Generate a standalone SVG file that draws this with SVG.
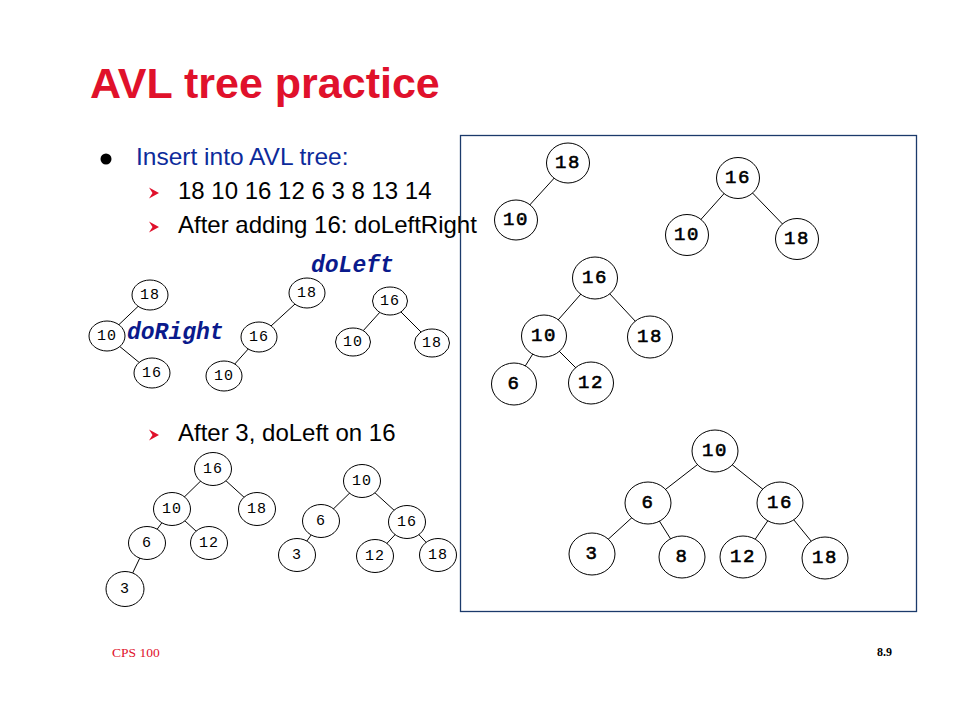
<svg xmlns="http://www.w3.org/2000/svg" width="960" height="720" viewBox="0 0 960 720">
<style>
.edge{stroke:#000;stroke-width:1;fill:none}
.nb ellipse{fill:#fff;stroke:#000;stroke-width:1}
.ns ellipse{fill:#fff;stroke:#000;stroke-width:1}
.nb text{font-family:"Liberation Mono","Courier New",monospace;font-size:19px;stroke:#000;stroke-width:0.6;letter-spacing:1.5px;text-anchor:middle;dominant-baseline:central}
.ns text{font-family:"Liberation Mono","Courier New",monospace;font-size:15px;letter-spacing:1px;text-anchor:middle;dominant-baseline:central}
.body{font-family:"Liberation Sans",Arial,sans-serif;font-size:24px;fill:#000}
.op{font-family:"Liberation Mono","Courier New",monospace;font-size:23px;font-weight:bold;font-style:italic;fill:#0a1a8c}
</style>
<defs>
<polygon id="arr" points="0,-5.5 10,0 0,5.5 3.5,0" fill="#e0112b"/>
</defs>
<rect width="960" height="720" fill="#fff"/>
<text x="90" y="98" font-family="Liberation Sans,Arial,sans-serif" font-size="43" font-weight="bold" fill="#e0112b">AVL tree practice</text>
<circle cx="106" cy="159" r="5.5" fill="#000"/>
<text x="136" y="165" font-family="Liberation Sans,Arial,sans-serif" font-size="24.5" fill="#0d2b9b">Insert into AVL tree:</text>
<use href="#arr" x="149" y="193"/>
<text class="body" x="178" y="199">18 10 16 12 6 3 8 13 14</text>
<use href="#arr" x="149" y="227"/>
<text class="body" x="178" y="233">After adding 16: doLeftRight</text>
<use href="#arr" x="149" y="435"/>
<text class="body" x="178" y="441">After 3, doLeft on 16</text>
<text class="op" x="127" y="339">doRight</text>
<text class="op" x="311" y="272">doLeft</text>
<rect x="460.5" y="135.5" width="456" height="476" fill="none" stroke="#1b3a6b" stroke-width="1.3"/>
<text x="112" y="657" font-family="Liberation Serif,Times New Roman,serif" font-size="13.5" fill="#e0112b">CPS 100</text>
<text x="877" y="656" font-family="Liberation Serif,Times New Roman,serif" font-size="12" font-weight="bold" fill="#000">8.9</text>
<g id="connectors">
<line class="edge" x1="150" y1="295" x2="107" y2="336"/>
<line class="edge" x1="107" y1="336" x2="152" y2="373"/>
<line class="edge" x1="307" y1="293" x2="259" y2="337"/>
<line class="edge" x1="259" y1="337" x2="224" y2="376"/>
<line class="edge" x1="390" y1="301" x2="353" y2="342"/>
<line class="edge" x1="390" y1="301" x2="432" y2="343"/>
<line class="edge" x1="213" y1="469" x2="172" y2="509"/>
<line class="edge" x1="213" y1="469" x2="257" y2="509"/>
<line class="edge" x1="172" y1="509" x2="147" y2="543"/>
<line class="edge" x1="172" y1="509" x2="209" y2="543"/>
<line class="edge" x1="147" y1="543" x2="125" y2="589"/>
<line class="edge" x1="362" y1="481" x2="321" y2="521"/>
<line class="edge" x1="362" y1="481" x2="407" y2="522"/>
<line class="edge" x1="321" y1="521" x2="297" y2="555"/>
<line class="edge" x1="407" y1="522" x2="375" y2="556"/>
<line class="edge" x1="407" y1="522" x2="438" y2="555"/>
<line class="edge" x1="568" y1="163" x2="516" y2="220"/>
<line class="edge" x1="738" y1="178" x2="687" y2="235"/>
<line class="edge" x1="738" y1="178" x2="797" y2="239"/>
<line class="edge" x1="595" y1="278" x2="544" y2="336"/>
<line class="edge" x1="595" y1="278" x2="650" y2="337"/>
<line class="edge" x1="544" y1="336" x2="514" y2="384"/>
<line class="edge" x1="544" y1="336" x2="591" y2="383"/>
<line class="edge" x1="715" y1="451" x2="648" y2="503"/>
<line class="edge" x1="715" y1="451" x2="780" y2="503"/>
<line class="edge" x1="648" y1="503" x2="592" y2="554"/>
<line class="edge" x1="648" y1="503" x2="682" y2="557"/>
<line class="edge" x1="780" y1="503" x2="743" y2="557"/>
<line class="edge" x1="780" y1="503" x2="825" y2="558"/>
</g>
<g id="t1-18" class="ns"><ellipse cx="150" cy="295" rx="18" ry="15"/><text x="150" y="295">18</text></g>
<g id="t1-10" class="ns"><ellipse cx="107" cy="336" rx="18" ry="15"/><text x="107" y="336">10</text></g>
<g id="t1-16" class="ns"><ellipse cx="152" cy="373" rx="18" ry="15"/><text x="152" y="373">16</text></g>
<g id="t2-18" class="ns"><ellipse cx="307" cy="293" rx="18" ry="15"/><text x="307" y="293">18</text></g>
<g id="t2-16" class="ns"><ellipse cx="259" cy="337" rx="18" ry="15"/><text x="259" y="337">16</text></g>
<g id="t2-10" class="ns"><ellipse cx="224" cy="376" rx="18" ry="15"/><text x="224" y="376">10</text></g>
<g id="t3-16" class="ns"><ellipse cx="390" cy="301" rx="17.5" ry="14"/><text x="390" y="301">16</text></g>
<g id="t3-10" class="ns"><ellipse cx="353" cy="342" rx="17.5" ry="14"/><text x="353" y="342">10</text></g>
<g id="t3-18" class="ns"><ellipse cx="432" cy="343" rx="17.5" ry="14"/><text x="432" y="343">18</text></g>
<g id="t4-16" class="ns"><ellipse cx="213" cy="469" rx="18.5" ry="16.5"/><text x="213" y="469">16</text></g>
<g id="t4-10" class="ns"><ellipse cx="172" cy="509" rx="18.5" ry="16.5"/><text x="172" y="509">10</text></g>
<g id="t4-18" class="ns"><ellipse cx="257" cy="509" rx="18.5" ry="16.5"/><text x="257" y="509">18</text></g>
<g id="t4-6" class="ns"><ellipse cx="147" cy="543" rx="18.5" ry="16.5"/><text x="147" y="543">6</text></g>
<g id="t4-12" class="ns"><ellipse cx="209" cy="543" rx="18.5" ry="16.5"/><text x="209" y="543">12</text></g>
<g id="t4-3" class="ns"><ellipse cx="125" cy="589" rx="19" ry="17.5"/><text x="125" y="589">3</text></g>
<g id="t5-10" class="ns"><ellipse cx="362" cy="481" rx="18.5" ry="16.5"/><text x="362" y="481">10</text></g>
<g id="t5-6" class="ns"><ellipse cx="321" cy="521" rx="18.5" ry="16.5"/><text x="321" y="521">6</text></g>
<g id="t5-16" class="ns"><ellipse cx="407" cy="522" rx="18.5" ry="16.5"/><text x="407" y="522">16</text></g>
<g id="t5-3" class="ns"><ellipse cx="297" cy="555" rx="18.5" ry="16.5"/><text x="297" y="555">3</text></g>
<g id="t5-12" class="ns"><ellipse cx="375" cy="556" rx="18.5" ry="16.5"/><text x="375" y="556">12</text></g>
<g id="t5-18" class="ns"><ellipse cx="438" cy="555" rx="18.5" ry="16.5"/><text x="438" y="555">18</text></g>
<g id="ta-18" class="nb"><ellipse cx="568" cy="163" rx="21.5" ry="20"/><text x="568" y="163">18</text></g>
<g id="ta-10" class="nb"><ellipse cx="516" cy="220" rx="21.5" ry="20"/><text x="516" y="220">10</text></g>
<g id="tb-16" class="nb"><ellipse cx="738" cy="178" rx="21.5" ry="20.5"/><text x="738" y="178">16</text></g>
<g id="tb-10" class="nb"><ellipse cx="687" cy="235" rx="21.5" ry="20.5"/><text x="687" y="235">10</text></g>
<g id="tb-18" class="nb"><ellipse cx="797" cy="239" rx="21.5" ry="20.5"/><text x="797" y="239">18</text></g>
<g id="tc-16" class="nb"><ellipse cx="595" cy="278" rx="22.5" ry="21"/><text x="595" y="278">16</text></g>
<g id="tc-10" class="nb"><ellipse cx="544" cy="336" rx="22.5" ry="21"/><text x="544" y="336">10</text></g>
<g id="tc-18" class="nb"><ellipse cx="650" cy="337" rx="22.5" ry="21"/><text x="650" y="337">18</text></g>
<g id="tc-6" class="nb"><ellipse cx="514" cy="384" rx="22.5" ry="21"/><text x="514" y="384">6</text></g>
<g id="tc-12" class="nb"><ellipse cx="591" cy="383" rx="22.5" ry="21"/><text x="591" y="383">12</text></g>
<g id="td-10" class="nb"><ellipse cx="715" cy="451" rx="23" ry="21"/><text x="715" y="451">10</text></g>
<g id="td-6" class="nb"><ellipse cx="648" cy="503" rx="23" ry="21"/><text x="648" y="503">6</text></g>
<g id="td-16" class="nb"><ellipse cx="780" cy="503" rx="23" ry="21"/><text x="780" y="503">16</text></g>
<g id="td-3" class="nb"><ellipse cx="592" cy="554" rx="23" ry="21"/><text x="592" y="554">3</text></g>
<g id="td-8" class="nb"><ellipse cx="682" cy="557" rx="23" ry="21"/><text x="682" y="557">8</text></g>
<g id="td-12" class="nb"><ellipse cx="743" cy="557" rx="23" ry="21"/><text x="743" y="557">12</text></g>
<g id="td-18" class="nb"><ellipse cx="825" cy="558" rx="23" ry="21"/><text x="825" y="558">18</text></g>
</svg>
